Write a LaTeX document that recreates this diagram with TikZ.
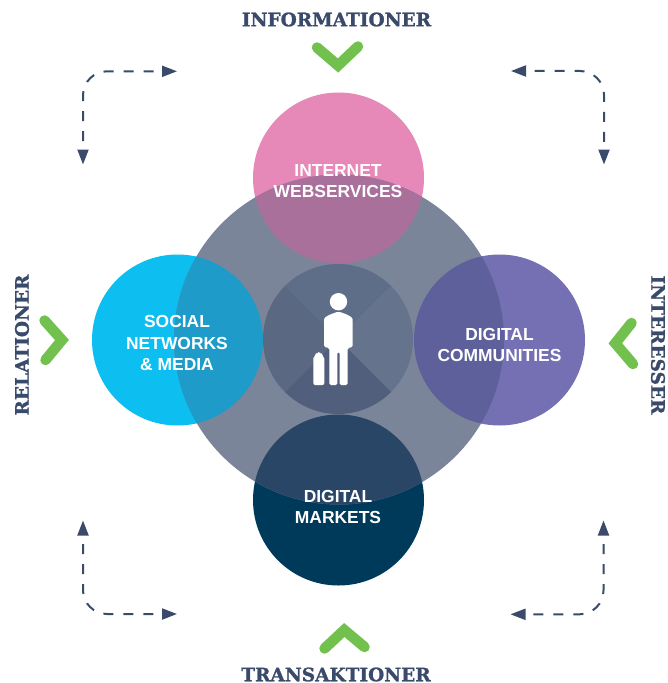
\documentclass[tikz,border=0pt]{standalone}
\usepackage{fontspec}
\usetikzlibrary{arrows.meta}
\setmainfont{Liberation Sans}
\newfontfamily\slabfont[BoldFeatures={FakeBold=1.2}]{DejaVu Serif}
\definecolor{pinkc}{HTML}{E688B8}
\definecolor{pinkl}{HTML}{A9709C}
\definecolor{cyanc}{HTML}{0DBEF0}
\definecolor{cyanl}{HTML}{1E9BC8}
\definecolor{purpc}{HTML}{7570B3}
\definecolor{purpl}{HTML}{5E609B}
\definecolor{darkc}{HTML}{003A5B}
\definecolor{darkl}{HTML}{2A4666}
\definecolor{bigc}{HTML}{7B8599}
\definecolor{navy}{HTML}{3A4A6B}
\definecolor{greenc}{HTML}{72C14E}
\definecolor{secta}{RGB}{95,110,136}
\definecolor{sectb}{RGB}{90,104,130}
\definecolor{sectc}{RGB}{102,115,140}
\definecolor{sectd}{RGB}{81,95,124}
\tikzset{
  lbl/.style={text=white,font=\bfseries\fontsize{17.5}{21.5}\selectfont,align=center,inner sep=0pt},
  ttl/.style={text=navy,font=\slabfont\bfseries\fontsize{18.6}{22}\selectfont,inner sep=0pt},
  chev/.style={draw=greenc,line width=10.5bp,line cap=round,miter limit=4},
  dasharrow/.style={draw=navy,line width=2bp,dash pattern=on 10bp off 10bp,dash phase=11bp,rounded corners=24bp,
    {Triangle[length=15bp,width=11bp]}-{Triangle[length=15bp,width=11bp]}},
}
\begin{document}
\begin{tikzpicture}[x=1bp,y=-1bp]
\useasboundingbox (0,0) rectangle (668,683);
\fill[white] (0,0) rectangle (668,683);
% satellite circles
\fill[pinkc] (338.5,178) circle[radius=85.5bp];
\fill[cyanc] (177.5,340) circle[radius=85.5bp];
\fill[purpc] (499.5,340) circle[radius=85.5bp];
\fill[darkc] (338.5,500) circle[radius=85.5bp];
% big circle
\fill[bigc] (339,339.5) circle[radius=165bp];
% lenses
\begin{scope}
\clip (339,339.5) circle[radius=165bp];
\fill[pinkl] (338.5,178) circle[radius=85.5bp];
\fill[cyanl] (177.5,340) circle[radius=85.5bp];
\fill[purpl] (499.5,340) circle[radius=85.5bp];
\fill[darkl] (338.5,500) circle[radius=85.5bp];
\end{scope}
% centre circle in four sectors
\begin{scope}
\clip (338,339) circle[radius=75bp];
\fill[secta] (338,339) -- (238,239) -- (438,239) -- cycle;
\fill[sectb] (338,339) -- (238,239) -- (238,439) -- cycle;
\fill[sectc] (338,339) -- (438,239) -- (438,439) -- cycle;
\fill[sectd] (338,339) -- (238,439) -- (438,439) -- cycle;
\end{scope}
% person
\fill[white] (338.5,301.7) circle[radius=8.7bp];
\fill[white,rounded corners=1.5bp] (324,318) -- (330,314.5) -- (338.5,311.5) -- (347,314.5) -- (352.7,318) -- (352.7,347) -- (347.7,348) -- (347.7,385) -- (339.6,385) -- (339.6,352) -- (337.4,352) -- (337.4,385) -- (329.3,385) -- (329.3,348) -- (324,347) -- cycle;
\fill[white,rounded corners=2bp] (313.3,385) -- (313.3,356.5) -- (316.5,354.5) -- (316.8,352) -- (320.8,352) -- (321.1,354.5) -- (324.3,356.5) -- (324.3,385) -- cycle;
% chevrons
\coordinate (topa) at (317,47.5);
\coordinate (topb) at (338,65.5);
\coordinate (topc) at (358,46.5);
\draw[chev] (topa) -- (topb) -- (topc);
\coordinate (bota) at (324.5,648.5);
\coordinate (botb) at (344.3,630);
\coordinate (botc) at (364.5,647);
\draw[chev] (bota) -- (botb) -- (botc);
\coordinate (lefa) at (44.5,320.5);
\coordinate (lefb) at (62,340);
\coordinate (lefc) at (45.5,360);
\draw[chev] (lefa) -- (lefb) -- (lefc);
\coordinate (riga) at (631.5,323);
\coordinate (rigb) at (615.3,343.3);
\coordinate (rigc) at (633,364);
\draw[chev] (riga) -- (rigb) -- (rigc);
% dashed connectors
\coordinate (tla) at (177,71.3);
\coordinate (tlc) at (83,71.3);
\coordinate (tlb) at (83,164.5);
\draw[dasharrow] (tla) -- (tlc) -- (tlb);
\coordinate (tra) at (511,71);
\coordinate (trc) at (604,71);
\coordinate (trb) at (604,164.5);
\draw[dasharrow] (tra) -- (trc) -- (trb);
\coordinate (bla) at (83,520.5);
\coordinate (blc) at (83,614);
\coordinate (blb) at (177,614);
\draw[dasharrow] (bla) -- (blc) -- (blb);
\coordinate (bra) at (603.5,520.5);
\coordinate (brc) at (603.5,614.3);
\coordinate (brb) at (510.5,614.3);
\draw[dasharrow] (bra) -- (brc) -- (brb);
% labels
\node[lbl] (web) at (338,181) {INTERNET\\WEBSERVICES};
\node[lbl] (soc) at (177,343) {SOCIAL\\NETWORKS\\\& MEDIA};
\node[lbl] (com) at (499.5,345) {DIGITAL\\COMMUNITIES};
\node[lbl] (mkt) at (338,507) {DIGITAL\\MARKETS};
\node[ttl] (inf) at (336.5,19.5) {INFORMATIONER};
\node[ttl] (tra) at (336,674.5) {TRANSAKTIONER};
\node[ttl,rotate=90] (rel) at (22,345) {RELATIONER};
\node[ttl,rotate=-90] (int) at (658,345) {INTERESSER};
\end{tikzpicture}
\end{document}
